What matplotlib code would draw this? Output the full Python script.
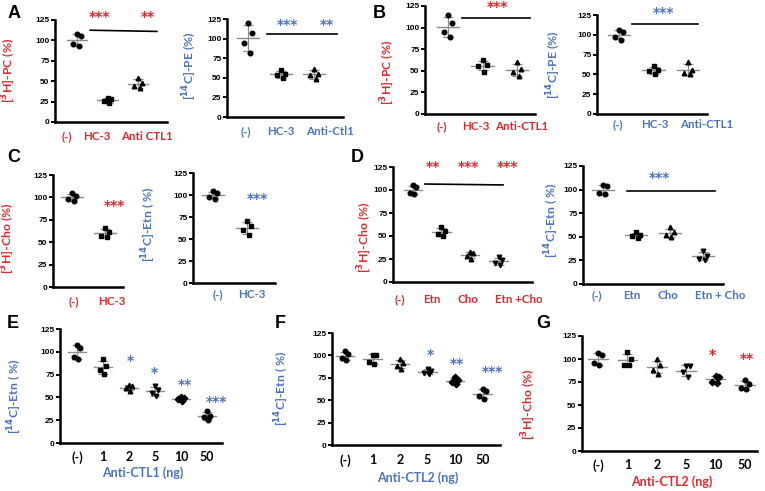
import numpy as np
import matplotlib.pyplot as plt

W, H = 765, 491
RED = '#e3262b'
BLUE = '#4a72c2'
GRAY = '#8c8c8c'
MARKERS = ['o', 's', '^', 'v', 'D', 'o']
JITTER = [0.0, 0.12, -0.12, 0.05]

# --- data (% of control) ---
a1_labels = ['(-)', 'HC-3', 'Anti CTL1']
a1_vals = [[108, 105, 95, 93], [29, 28, 26, 23], [54, 48, 44, 42]]
a2_labels = ['(-)', 'HC-3', 'Anti-Ctl1']
a2_vals = [[120, 107, 94, 81], [60, 55, 53, 50], [61, 55, 53, 48]]
b1_labels = ['(-)', 'HC-3', 'Anti-CTL1']
b1_vals = [[115, 105, 95, 89], [62, 57, 55, 49], [60, 52, 49, 44]]
b2_labels = ['(-)', 'HC-3', 'Anti-CTL1']
b2_vals = [[106, 103, 97, 94], [61, 56, 54, 50], [66, 56, 52, 50]]
c1_labels = ['(-)', 'HC-3']
c1_vals = [[105, 102, 98, 96], [66, 61, 57, 56]]
c2_labels = ['(-)', 'HC-3']
c2_vals = [[104, 102, 98, 96], [70, 65, 60, 55]]
d1_labels = ['(-)', 'Etn', 'Cho', 'Etn +Cho']
d1_vals = [[105, 103, 97, 96], [60, 55, 52, 50], [33, 31, 28, 25], [27, 24, 21, 18]]
d2_labels = ['(-)', 'Etn', 'Cho', 'Etn + Cho']
d2_vals = [[105, 104, 96, 95], [55, 52, 51, 49], [60, 55, 52, 50], [35, 30, 27, 25]]
dose_labels = ['(-)', '1', '2', '5', '10', '50']
e_vals = [[108, 104, 94, 92], [92, 84, 80, 76], [64, 62, 60, 57],
          [62, 58, 55, 51], [50, 49, 48, 46], [35, 30, 28, 25]]
f_vals = [[105, 102, 97, 95], [101, 100, 93, 90], [96, 92, 88, 85],
          [85, 83, 80, 79], [76, 73, 70, 68], [63, 60, 55, 51]]
g_vals = [[106, 104, 96, 93], [108, 100, 94, 93], [100, 93, 88, 84],
          [92, 92, 86, 80], [82, 80, 75, 74], [77, 73, 68, 67]]

# significance marks: (text, x position in group units, y value)
a1_sig = [('***', 0.75, 128.5), ('**', 2.33, 128.5)]
a2_sig = [('***', 1.2, 117), ('**', 2.4, 117)]
b1_sig = [('***', 1.42, 123.5)]
b2_sig = [('***', 1.28, 128)]
c1_sig = [('***', 1.3, 90)]
c2_sig = [('***', 1.3, 95)]
d1_sig = [('**', 0.7, 125), ('***', 1.93, 125), ('***', 3.33, 125)]
d2_sig = [('***', 1.71, 112)]
e_sig = [('*', 2.04, 90), ('*', 2.96, 77), ('**', 4.15, 64), ('***', 5.38, 45)]
f_sig = [('*', 3.09, 100), ('**', 4.07, 90), ('***', 5.35, 81)]
g_sig = [('*', 3.88, 104), ('**', 5.07, 100)]

# bracket lines: ([x0, x1], [y0, y1])
a1_line = ([0.43, 2.62], [112.5, 111])
a2_line = ([0.58, 2.7], [105.5, 105.5])
b1_line = ([0.41, 2.38], [111, 111])
b2_line = ([0.38, 2.29], [113.6, 113.6])
d1_line = ([0.42, 3.16], [106.5, 105.5])
d2_line = ([0.72, 3.36], [99, 99])

fig = plt.figure(figsize=(W / 100, H / 100), dpi=100)

LAB_FONT = ['Lato', 'DejaVu Sans']


def panel(box, p0, step, vals, labels, lab_col, tick_col, ylabel, ylab_xy,
          lab_gap, sig=(), sig_col='k', line=None, xlabel=None, xlab_y=None,
          lab_px=None, lab_size=8.3):
    l, r, t, b = box
    ax = fig.add_axes([l / W, 1 - b / H, (r - l) / W, (b - t) / H])
    for i, v in enumerate(vals):
        v = np.array(v, dtype=float)
        m, sd = v.mean(), v.std(ddof=1)
        ax.plot([i - 0.33, i + 0.33], [m, m], color=GRAY, lw=1.0, zorder=2)
        ax.errorbar(i, m, yerr=sd, color=GRAY, lw=0.9, capsize=3.4,
                    capthick=0.9, zorder=2)
        ax.plot(i + np.array(JITTER[:len(v)]), v, MARKERS[i], color='k',
                ms=3.3, zorder=3, clip_on=False)
    ax.set_xlim((l - p0) / step, (r - p0) / step)
    ax.set_ylim(0, 125)
    for s in ['top', 'right']:
        ax.spines[s].set_visible(False)
    for s in ['left', 'bottom']:
        ax.spines[s].set_linewidth(1.8)
    ax.set_yticks([0, 25, 50, 75, 100, 125])
    ax.tick_params(axis='y', length=3, width=1.4, pad=1, labelsize=6)
    for tl in ax.get_yticklabels():
        tl.set_fontweight('bold')
        tl.set_family('Liberation Sans')
    if lab_px is None:
        ticks = list(range(len(labels)))
    else:
        ticks = [(p - p0) / step for p in lab_px]
    ax.set_xticks(ticks)
    ax.set_xticklabels(labels, color=tick_col, fontweight='bold',
                       fontsize=lab_size, family=LAB_FONT)
    ax.tick_params(axis='x', length=0, pad=(lab_gap - 6) / 1.39)
    fig.text(ylab_xy[0] / W, 1 - ylab_xy[1] / H, ylabel, rotation=90,
             ha='center', va='center', color=lab_col, fontsize=8.8,
             fontweight='bold', family=LAB_FONT)
    for txt, x, y in sig:
        ax.text(x, y, txt, color=sig_col, ha='center', va='center',
                fontsize=10, fontweight='bold', clip_on=False)
    if line is not None:
        ax.plot(line[0], line[1], color='k', lw=1.2, clip_on=False)
    if xlabel is not None:
        fig.text(((l + r) / 2 + 2) / W, 1 - xlab_y / H, xlabel, ha='center',
                 va='center', color=lab_col, fontsize=9, fontweight='bold',
                 family=LAB_FONT)
    return ax


PC = r'[$^{\mathbf{3}}$H]-PC (%)'
PE = r'[$^{\mathbf{14}}$C]-PE (%)'
CHO = r'[$^{\mathbf{3}}$H]-Cho (%)'
ETN = r'[$^{\mathbf{14}}$C]-Etn ( %)'

panel((55, 167, 20, 122), 77, 30.5, a1_vals, a1_labels, RED, RED, PC, (9, 70),
      15, a1_sig, RED, a1_line, lab_px=[67, 97, 147])
panel((227, 343, 19, 117), 248, 33, a2_vals, a2_labels, BLUE, BLUE, PE, (190, 66),
      15, a2_sig, BLUE, a2_line, lab_px=[246, 281, 330])
panel((425, 535, 6, 114), 448, 34.5, b1_vals, b1_labels, RED, RED, PC, (388, 72),
      13, b1_sig, RED, b1_line, lab_px=[442, 476, 522])
panel((597, 707, 15, 114), 619, 34.5, b2_vals, b2_labels, BLUE, BLUE, PE, (554, 65),
      11, b2_sig, BLUE, b2_line, lab_px=[618, 655, 707])
panel((53, 123, 175, 287), 72, 33, c1_vals, c1_labels, RED, RED, CHO, (8, 238),
      15, c1_sig, RED, lab_px=[74, 112])
panel((193, 275, 173, 283), 213, 34, c2_vals, c2_labels, BLUE, BLUE, ETN, (149, 224),
      12, c2_sig, BLUE, lab_px=[218, 252])
panel((393, 532, 167, 282), 413, 28.5, d1_vals, d1_labels, RED, RED, CHO, (365, 237),
      18, d1_sig, RED, d1_line, lab_px=[400, 432, 468, 519])
panel((583, 723, 166, 284), 603, 33.3, d2_vals, d2_labels, BLUE, BLUE, ETN, (552, 220),
      12, d2_sig, BLUE, d2_line, lab_px=[597, 632, 668, 720])
panel((60, 222, 329, 443), 77, 26, e_vals, dose_labels, BLUE, 'k', ETN, (15, 396),
      14, e_sig, BLUE, None, 'Anti-CTL1 (ng)', 473, lab_size=9)
panel((332, 500, 333, 445), 345, 27.5, f_vals, dose_labels, BLUE, 'k', ETN, (282, 388),
      15, f_sig, BLUE, None, 'Anti-CTL2 (ng)', 478, lab_size=9)
panel((582, 757, 336, 451), 598, 29.4, g_vals, dose_labels, RED, 'k', CHO, (529, 404),
      14, g_sig, RED, None, 'Anti-CTL2 (ng)', 482, lab_size=9)

for letter, x, y in [('A', 14, 13), ('B', 379, 14), ('C', 14, 158), ('D', 357, 158),
                     ('E', 13, 323), ('F', 280, 324), ('G', 543, 323)]:
    fig.text(x / W, 1 - y / H, letter, ha='center', va='center', fontsize=13,
             fontweight='bold', family='Liberation Sans')

fig.savefig('out.png', dpi=100)
